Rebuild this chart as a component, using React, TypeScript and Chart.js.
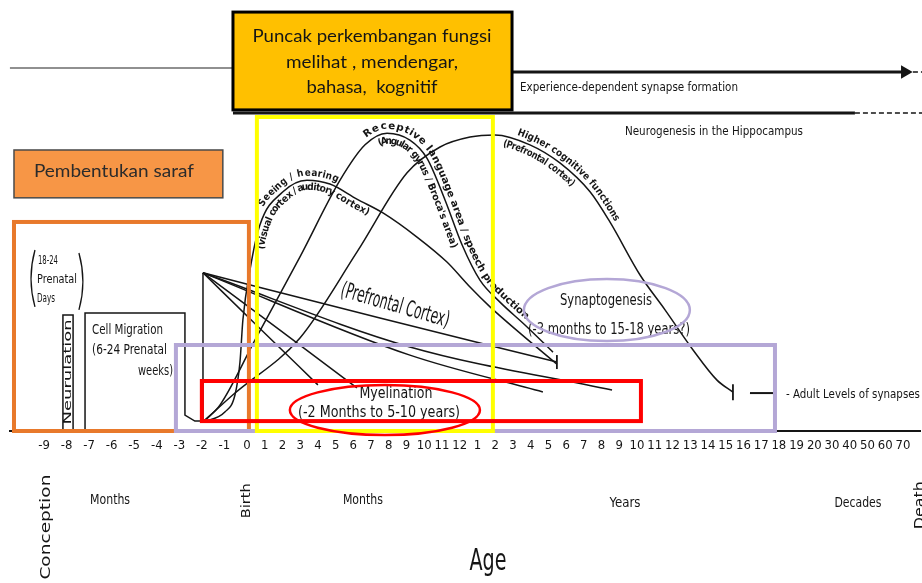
import React, { useEffect, useRef } from "react";
import { Chart, registerables } from "chart.js";
Chart.register(...registerables);

const NARROW = '"Liberation Sans Narrow", "DejaVu Sans Condensed", "Arial Narrow", sans-serif';
const TICKFONT = '"DejaVu Sans Condensed", "Liberation Sans Narrow", sans-serif';
const SANS = 'Lato, "Open Sans", "Noto Sans", sans-serif';

// ---- axis ticks (index 0..46) ----
const tickLabels = [
  "-9", "-8", "-7", "-6", "-5", "-4", "-3", "-2", "-1", "0",
  "1", "2", "3", "4", "5", "6", "7", "8", "9", "10", "11", "12",
  "1", "2", "3", "4", "5", "6", "7", "8", "9", "10", "11", "12", "13", "14", "15", "16", "17", "18", "19", "20",
  "30", "40", "50", "60", "70",
];

// prenatal months are drawn wider than the postnatal ticks
const PRENATAL_STRETCH = 1.272;
const BIRTH = 9;
const pos = (i: number) => (i <= BIRTH ? i * PRENATAL_STRETCH : BIRTH * PRENATAL_STRETCH + (i - BIRTH));

// ---- series: x = tick index (age), y = relative level (0-100) ----
const seeingAge = [7.05, 8.02, 8.47, 8.69, 8.82, 9.17, 9.73, 11.03, 12.38, 13.68, 15.2, 16.67, 18.59, 20.28, 21.58, 22.71, 24.4, 26.48];
const seeingLevel = [2.1, 4.4, 8.4, 16.0, 25.8, 37.4, 47.8, 55.5, 58.2, 57.3, 53.8, 50.6, 45.0, 39.2, 33.4, 28.8, 22.7, 15.5];

const receptiveAge = [7.05, 7.8, 9.45, 11.99, 14.25, 15.66, 16.9, 18.19, 19.15, 20.17, 21.13, 22.14, 23.27, 24.68, 26.26];
const receptiveLevel = [2.1, 6.0, 21.1, 40.4, 58.2, 66.4, 69.1, 67.5, 63.3, 53.6, 43.2, 35.0, 29.9, 24.6, 18.3];

const higherAge = [7.05, 8.38, 11.99, 15.2, 18.03, 19.89, 21.58, 22.99, 24.96, 26.65, 28.35, 29.47, 31.17, 32.58, 34.16, 35.51, 36.41];
const higherLevel = [2.1, 8.4, 21.6, 41.5, 59.9, 65.9, 68.2, 68.7, 66.4, 62.2, 55.5, 48.5, 36.2, 28.1, 18.8, 11.8, 9.0];

const myelin1Age = [7.05, 16.5, 26.48];
const myelin1Level = [36.7, 26.2, 16.0];
const myelin2Age = [7.05, 18.19, 29.59];
const myelin2Level = [36.7, 19.5, 9.5];
const myelin3Age = [7.05, 18.19, 25.69];
const myelin3Level = [36.7, 17.6, 9.05];
const myelin4Age = [7.05, 10.86, 15.2];
const myelin4Level = [36.7, 23.4, 10.0];
const myelin5Age = [7.05, 9.73, 13.0];
const myelin5Level = [36.7, 23.8, 10.7];

const stemAge = [7.05, 7.05];
const stemLevel = [36.7, 2.1];

const cellMigrationAge = [1.82, 1.82, 6.25, 6.25, 6.69, 7.05];
const cellMigrationLevel = [0, 27.4, 27.4, 3.7, 2.3, 2.3];

const neurulationAge = [0.84, 0.84, 1.29, 1.29];
const neurulationLevel = [0, 26.9, 26.9, 0];

const experienceLeftAge = [-1.51, 8.47];
const experienceLeftLevel = [84.2, 84.2];
const experienceAge = [23.95, 46.11];
const experienceLevel = [83.3, 83.3];
const experienceTailAge = [46.11, 47.1];
const experienceTailLevel = [83.3, 83.3];

const neurogenesisAge = [8.38, 43.29];
const neurogenesisLevel = [73.8, 73.8];
const neurogenesisTailAge = [43.29, 47.1];
const neurogenesisTailLevel = [73.8, 73.8];

const mk = (ages: number[], levels: number[]) => ages.map((a, k) => ({ x: pos(a), y: levels[k] }));

function series(ages: number[], levels: number[], extra: any = {}) {
  return {
    data: mk(ages, levels),
    borderColor: "#151515",
    borderWidth: 1.5,
    pointRadius: 0,
    fill: false,
    clip: false,
    cubicInterpolationMode: "monotone",
    ...extra,
  };
}

function endMark(n: number, style: string, r: number) {
  return {
    pointStyle: style,
    pointRotation: 90,
    pointRadius: (c: any) => (c.dataIndex === n - 1 ? r : 0),
    pointBorderColor: "#151515",
    pointBackgroundColor: "#151515",
    pointBorderWidth: 1.8,
  };
}

// ---- drawing helpers ----
function txt(ctx: CanvasRenderingContext2D, s: string, x: number, y: number, size: number, o: any = {}) {
  const { width, align = "center", rotate = 0, color = "#151515", family = NARROW, weight = "normal" } = o;
  ctx.save();
  ctx.font = `${weight} ${size}px ${family}`;
  ctx.fillStyle = color;
  ctx.textBaseline = "middle";
  ctx.textAlign = align;
  ctx.translate(x, y);
  ctx.rotate(rotate);
  if (width) {
    const w = ctx.measureText(s).width;
    ctx.scale(width / w, 1);
  }
  ctx.fillText(s, 0, 0);
  ctx.restore();
}

function pathOf(meta: any) {
  const pts = meta.data;
  const out: { x: number; y: number }[] = [];
  for (let k = 0; k < pts.length - 1; k++) {
    const a = pts[k], b = pts[k + 1];
    const c1x = a.cp2x ?? a.x, c1y = a.cp2y ?? a.y, c2x = b.cp1x ?? b.x, c2y = b.cp1y ?? b.y;
    for (let s = 0; s < 24; s++) {
      const t = s / 24, m = 1 - t;
      out.push({
        x: m * m * m * a.x + 3 * m * m * t * c1x + 3 * m * t * t * c2x + t * t * t * b.x,
        y: m * m * m * a.y + 3 * m * m * t * c1y + 3 * m * t * t * c2y + t * t * t * b.y,
      });
    }
  }
  const l = pts[pts.length - 1];
  out.push({ x: l.x, y: l.y });
  return out;
}

function textOnPath(ctx: CanvasRenderingContext2D, s: string, path: { x: number; y: number }[], x0: number, x1: number, offset: number, size: number) {
  const cum = [0];
  for (let k = 1; k < path.length; k++) cum.push(cum[k - 1] + Math.hypot(path[k].x - path[k - 1].x, path[k].y - path[k - 1].y));
  const idxAt = (x: number) => {
    for (let k = 0; k < path.length; k++) if (path[k].x >= x) return k;
    return path.length - 1;
  };
  const s0 = cum[idxAt(x0)], s1 = cum[idxAt(x1)];
  ctx.save();
  ctx.font = `bold ${size}px ${NARROW}`;
  ctx.fillStyle = "#151515";
  ctx.textAlign = "center";
  ctx.textBaseline = "middle";
  const ws = [...s].map((c) => ctx.measureText(c).width);
  const W = ws.reduce((p, q) => p + q, 0);
  const k = (s1 - s0) / W;
  const at = (m: number) => {
    let j = 0;
    while (j < cum.length - 2 && cum[j + 1] < m) j++;
    const seg = cum[j + 1] - cum[j] || 1;
    const t = Math.min(1, Math.max(0, (m - cum[j]) / seg));
    const p = path[j], q = path[j + 1];
    return { x: p.x + (q.x - p.x) * t, y: p.y + (q.y - p.y) * t, a: Math.atan2(q.y - p.y, q.x - p.x) };
  };
  let d = s0;
  [...s].forEach((c, i) => {
    const w = ws[i] * k;
    const p = at(d + w / 2);
    ctx.save();
    ctx.translate(p.x, p.y);
    ctx.rotate(p.a);
    ctx.scale(k, 1);
    ctx.fillText(c, 0, -offset);
    ctx.restore();
    d += w;
  });
  ctx.restore();
}

const overlay = {
  id: "overlay",
  afterDatasetsDraw(chart: any) {
    const ctx: CanvasRenderingContext2D = chart.ctx;
    const xs = chart.scales.x, ys = chart.scales.y;
    const X = (a: number) => xs.getPixelForValue(pos(a));
    const Y = (v: number) => ys.getPixelForValue(v);

    // text along the three function curves
    const seeing = pathOf(chart.getDatasetMeta(0));
    const receptive = pathOf(chart.getDatasetMeta(1));
    const higher = pathOf(chart.getDatasetMeta(2));
    textOnPath(ctx, "Seeing / hearing", seeing, X(10.1), X(13.95), 7, 10);
    textOnPath(ctx, "(visual cortex / auditory cortex)", seeing, X(9.39), X(16.05), -7, 10);
    textOnPath(ctx, "Receptive language area / speech production", receptive, X(15.82), X(24.51), 7, 10);
    textOnPath(ctx, "(Angular gyrus / Broca's area)", receptive, X(16.2), X(21.13), -8, 10);
    textOnPath(ctx, "Higher cognitive functions", higher, X(24.1), X(29.5), 7, 10);
    textOnPath(ctx, "(Prefrontal cortex)", higher, X(23.55), X(27.67), -8, 10);

    const rect = (a0: number, a1: number, v0: number, v1: number, stroke: string, lw: number, fill?: string) => {
      const x0 = X(a0), x1 = X(a1), y0 = Y(v0), y1 = Y(v1);
      ctx.save();
      if (fill) {
        ctx.fillStyle = fill;
        ctx.fillRect(x0, y0, x1 - x0, y1 - y0);
      }
      ctx.strokeStyle = stroke;
      ctx.lineWidth = lw;
      ctx.strokeRect(x0, y0, x1 - x0, y1 - y0);
      ctx.restore();
    };
    const ellipse = (a: number, v: number, ra: number, rv: number, stroke: string, lw: number) => {
      ctx.save();
      ctx.strokeStyle = stroke;
      ctx.lineWidth = lw;
      ctx.beginPath();
      ctx.ellipse(X(a), Y(v), X(a + ra) - X(a), Y(v - rv) - Y(v), 0, 0, Math.PI * 2);
      ctx.stroke();
      ctx.restore();
    };

    // plain figure labels
    txt(ctx, "Experience-dependent synapse formation", X(24.4), Y(79.6), 13, { width: 218, align: "left" });
    txt(ctx, "Neurogenesis in the Hippocampus", X(35.34), Y(69.4), 13, { width: 178 });
    txt(ctx, "18-24", X(-0.27), Y(39.4), 12, { width: 20, align: "left" });
    txt(ctx, "Prenatal", X(-0.31), Y(35.0), 12, { width: 40, align: "left" });
    txt(ctx, "Days", X(-0.31), Y(30.6), 12, { width: 18, align: "left" });
    txt(ctx, "Neurulation", X(1.06), Y(13.7), 11, { width: 105, rotate: -Math.PI / 2 });
    txt(ctx, "Cell Migration", X(2.13), Y(23.4), 14, { width: 71, align: "left" });
    txt(ctx, "(6-24 Prenatal", X(2.13), Y(18.6), 14, { width: 75, align: "left" });
    txt(ctx, "weeks)", X(5.72), Y(13.9), 14, { width: 35, align: "right" });
    txt(ctx, "(Prefrontal Cortex)", X(17.35), Y(29.0), 22, { width: 112, rotate: (16 * Math.PI) / 180 });
    txt(ctx, "Synaptogenesis", X(29.25), Y(30.2), 16, { width: 92 });
    txt(ctx, "(-3 months to 15-18 years?)", X(29.42), Y(23.4), 16, { width: 162 });
    txt(ctx, "Myelination", X(17.4), Y(8.6), 15, { width: 73 });
    txt(ctx, "(-2 Months to 5-10 years)", X(16.45), Y(4.2), 15, { width: 162 });
    txt(ctx, "- Adult Levels of synapses", X(39.4), Y(8.35), 13, { width: 134, align: "left" });
    ctx.save();
    ctx.strokeStyle = "#151515";
    ctx.lineWidth = 2;
    ctx.beginPath();
    ctx.moveTo(X(37.37), Y(8.8));
    ctx.lineTo(X(38.67), Y(8.8));
    ctx.stroke();
    // parentheses around "18-24 Prenatal Days"
    ctx.lineWidth = 1.3;
    ctx.beginPath();
    ctx.moveTo(X(-0.4), Y(42.0));
    ctx.quadraticCurveTo(X(-0.75), Y(35.4), X(-0.4), Y(28.8));
    ctx.moveTo(X(1.55), Y(41.3));
    ctx.quadraticCurveTo(X(1.9), Y(34.7), X(1.55), Y(28.1));
    ctx.stroke();
    ctx.restore();

    // bottom axis group labels
    txt(ctx, "Conception", X(0.09), Y(-22.3), 14, { width: 105, rotate: -Math.PI / 2 });
    txt(ctx, "Months", X(2.93), Y(-16.2), 14, { width: 40 });
    txt(ctx, "Birth", X(9.0), Y(-16.2), 13, { width: 35, rotate: -Math.PI / 2 });
    txt(ctx, "Months", X(15.54), Y(-16.2), 14, { width: 40 });
    txt(ctx, "Years", X(30.32), Y(-16.7), 14, { width: 31 });
    txt(ctx, "Decades", X(43.46), Y(-16.7), 14, { width: 47 });
    txt(ctx, "Death", X(47.0), Y(-17.2), 14, { width: 48, rotate: -Math.PI / 2 });
    txt(ctx, "Age", X(22.59), Y(-30.4), 30, { width: 37 });

    // coloured highlight frames
    rect(-1.33, 9.11, 48.5, 0, "#E8792B", 4);
    rect(5.85, 38.78, 19.95, 0, "#B4A7D6", 4);
    rect(9.56, 22.87, 72.85, 0, "#FFFF00", 4);
    rect(7.0, 31.22, 11.6, 2.3, "#FF0000", 4);
    ellipse(16.78, 4.87, 5.36, 5.8, "#FF0000", 2.5);
    ellipse(29.3, 28.07, 4.68, 7.2, "#B4A7D6", 2.5);

    // callout boxes
    rect(-1.33, 7.93, 65.2, 54.1, "#4a4a4a", 1.5, "#F79646");
    txt(ctx, "Pembentukan saraf", X(3.1), Y(60.1), 17, { family: SANS, width: 160, color: "#2b2b2b" });
    rect(8.38, 23.95, 97.2, 74.5, "#000000", 3, "#FFC000");
    txt(ctx, "Puncak perkembangan fungsi", X(16.05), Y(91.6), 17, { family: SANS, width: 239 });
    txt(ctx, "melihat , mendengar,", X(16.05), Y(85.6), 17, { family: SANS, width: 172 });
    txt(ctx, "bahasa,  kognitif", X(16.05), Y(79.8), 17, { family: SANS, width: 131 });
  },
};

export default function App() {
  const ref = useRef<HTMLCanvasElement>(null);
  useEffect(() => {
    const chart = new Chart(ref.current as HTMLCanvasElement, {
      type: "line",
      data: {
        datasets: [
          series(seeingAge, seeingLevel),
          series(receptiveAge, receptiveLevel),
          series(higherAge, higherLevel, endMark(higherAge.length, "line", 8)),
          series(myelin1Age, myelin1Level, endMark(myelin1Age.length, "line", 7)),
          series(myelin2Age, myelin2Level),
          series(myelin3Age, myelin3Level),
          series(myelin4Age, myelin4Level),
          series(myelin5Age, myelin5Level),
          series(stemAge, stemLevel, { cubicInterpolationMode: "default", tension: 0 }),
          series(cellMigrationAge, cellMigrationLevel, { cubicInterpolationMode: "default", tension: 0 }),
          series(neurulationAge, neurulationLevel, { cubicInterpolationMode: "default", tension: 0 }),
          series(experienceLeftAge, experienceLeftLevel, { borderColor: "#6b6b6b", borderWidth: 1.5, tension: 0, cubicInterpolationMode: "default" }),
          series(experienceAge, experienceLevel, { borderWidth: 3, tension: 0, cubicInterpolationMode: "default", ...endMark(experienceAge.length, "triangle", 6) }),
          series(experienceTailAge, experienceTailLevel, { borderWidth: 1.5, borderDash: [5, 3], tension: 0, cubicInterpolationMode: "default" }),
          series(neurogenesisAge, neurogenesisLevel, { borderWidth: 3, tension: 0, cubicInterpolationMode: "default" }),
          series(neurogenesisTailAge, neurogenesisTailLevel, { borderWidth: 1.5, borderDash: [5, 3], tension: 0, cubicInterpolationMode: "default" }),
        ] as any,
      },
      options: {
        animation: false,
        responsive: false,
        devicePixelRatio: 1,
        events: [],
        layout: { autoPadding: false, padding: { left: 10, right: 2, top: 0, bottom: 0 } },
        plugins: { legend: { display: false }, tooltip: { enabled: false } },
        scales: {
          x: {
            type: "linear",
            min: pos(-1.507),
            max: pos(46.96),
            grid: { display: false, drawTicks: false },
            border: { display: true, color: "#151515", width: 2 },
            afterBuildTicks: (scale: any) => {
              scale.ticks = tickLabels.map((_, i) => ({ value: pos(i) }));
            },
            afterFit: (scale: any) => {
              scale.height = 152;
            },
            ticks: {
              autoSkip: false,
              maxRotation: 0,
              minRotation: 0,
              padding: 7,
              color: "#151515",
              font: { family: TICKFONT, size: 13 },
              callback: (_v: any, i: number) => tickLabels[i],
            },
          },
          y: { display: false, min: 0, max: 100 },
        },
      } as any,
      plugins: [overlay],
    });
    return () => chart.destroy();
  }, []);
  return (
    <div style={{ position: "absolute", left: 0, top: 0, width: 922, height: 583, background: "#fff", overflow: "hidden" }}>
      <canvas ref={ref} width={922} height={583} style={{ display: "block", width: 922, height: 583 }} />
    </div>
  );
}
